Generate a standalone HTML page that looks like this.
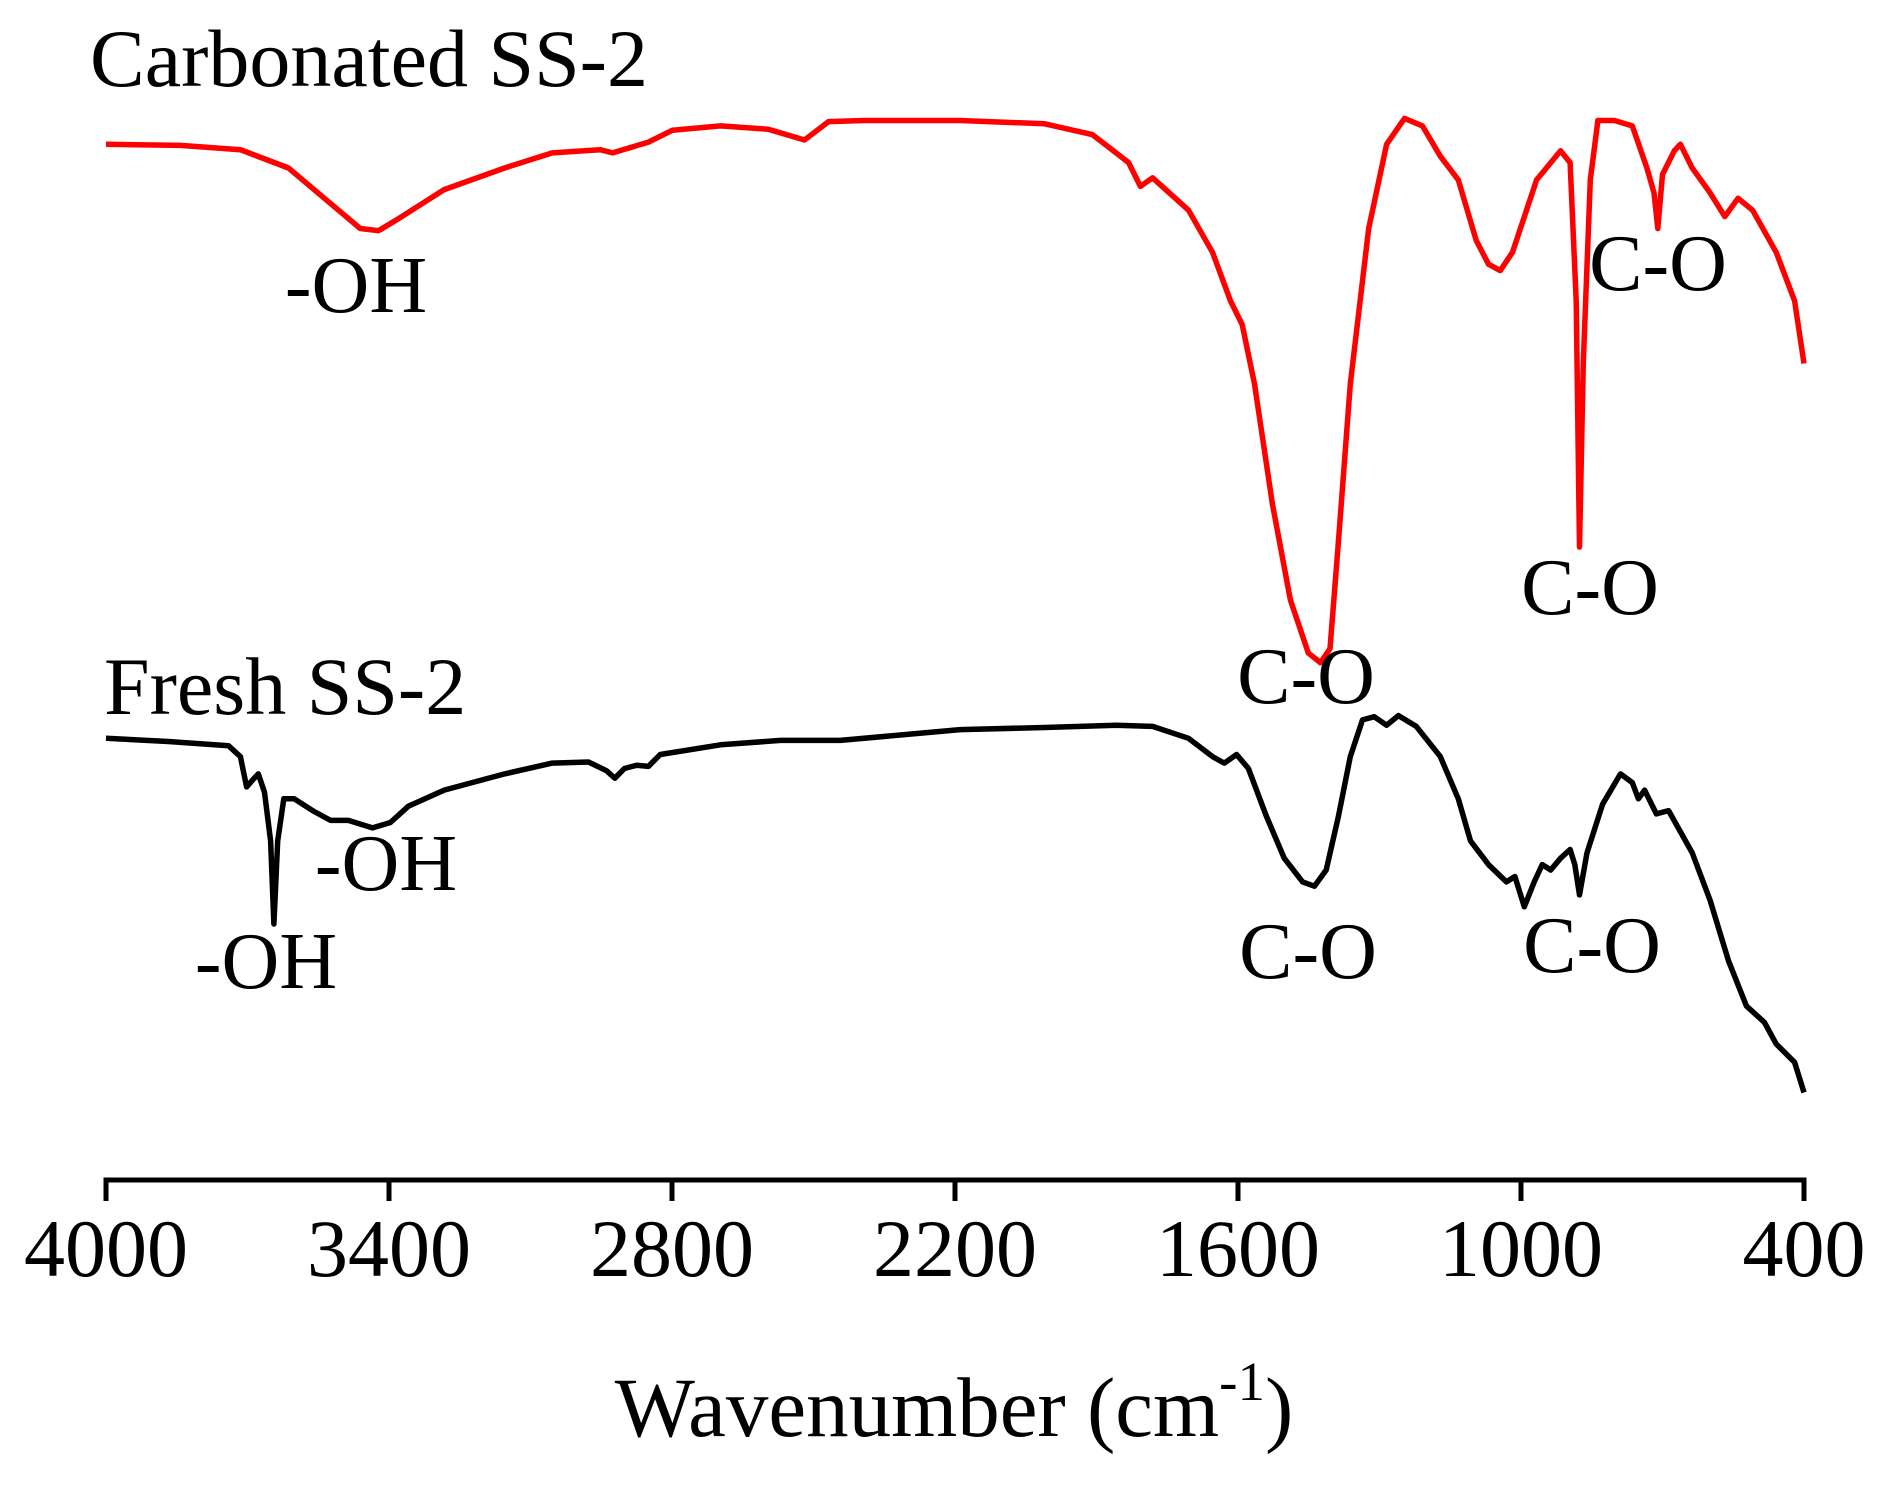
<!DOCTYPE html>
<html><head><meta charset="utf-8"><style>
html,body{margin:0;padding:0;background:#fff;}
svg text{font-family:"Liberation Serif",serif;fill:#000;}
</style></head><body>
<svg id="chart" width="1881" height="1480" viewBox="0 0 1881 1480" xmlns="http://www.w3.org/2000/svg">
<g id="axis"></g>
<g id="series"></g>
<text x="90" y="86" font-size="82">Carbonated SS-2</text>
<text x="104" y="714" font-size="82">Fresh SS-2</text>
<text x="356" y="312" font-size="80" text-anchor="middle">-OH</text>
<text x="1658" y="290" font-size="80" text-anchor="middle">C-O</text>
<text x="1590" y="614" font-size="80" text-anchor="middle">C-O</text>
<text x="1306" y="703" font-size="80" text-anchor="middle">C-O</text>
<text x="386" y="890" font-size="80" text-anchor="middle">-OH</text>
<text x="266" y="988" font-size="80" text-anchor="middle">-OH</text>
<text x="1308" y="978" font-size="80" text-anchor="middle">C-O</text>
<text x="1592" y="972" font-size="80" text-anchor="middle">C-O</text>
<text x="954" y="1436" font-size="85" text-anchor="middle">Wavenumber (cm<tspan font-size="55" dy="-36">-1</tspan><tspan dy="36">)</tspan></text>
</svg>
<script>
const xTicks=[4000,3400,2800,2200,1600,1000,400];
const carbWn=[4000,3842,3715,3613,3537,3461,3422,3384,3283,3155,3054,2952,2926,2850,2799,2697,2596,2519,2468,2392,2189,2010,1909,1832,1807,1781,1705,1654,1616,1591,1565,1527,1489,1451,1425,1405,1387,1362,1323,1285,1247,1209,1171,1133,1095,1069,1044,1018,967,916,896,883,876,868,853,837,802,764,733,718,710,700,675,662,637,599,568,540,509,459,420,400];
const carbVal=[95.9,95.8,95.4,93.7,90.9,88.1,87.9,88.9,91.7,93.7,95.1,95.4,95.1,96.1,97.2,97.6,97.3,96.3,98.0,98.1,98.1,97.8,96.8,94.2,92.0,92.8,89.8,85.9,81.4,79.2,73.7,62.6,53.7,48.8,47.9,49.2,59.2,73.7,88.1,95.9,98.3,97.6,94.8,92.6,87.0,84.8,84.2,85.9,92.6,95.3,94.2,81.4,58.6,75.7,92.6,98.1,98.1,97.6,93.7,91.4,88.1,93.1,95.3,95.9,93.7,91.4,89.2,90.9,89.8,85.9,81.4,75.6];
const freshWn=[4000,3868,3740,3715,3702,3690,3677,3664,3651,3644,3636,3623,3601,3562,3524,3486,3435,3397,3359,3283,3155,3054,2977,2939,2921,2901,2875,2850,2825,2697,2570,2443,2316,2189,2010,1858,1781,1705,1654,1629,1603,1578,1540,1502,1463,1438,1413,1387,1362,1336,1311,1285,1260,1222,1171,1133,1107,1069,1031,1013,993,972,955,937,916,896,886,876,860,827,789,764,751,738,713,687,637,599,560,522,484,459,420,400];
const freshVal=[40.9,40.6,40.2,39.2,36.4,37.0,37.6,35.9,31.4,23.7,31.4,35.3,35.3,34.2,33.3,33.3,32.6,33.1,34.6,36.1,37.6,38.6,38.7,37.9,37.2,38.1,38.4,38.3,39.4,40.3,40.7,40.7,41.2,41.7,41.9,42.1,42.0,40.9,39.2,38.6,39.4,38.1,33.7,29.8,27.6,27.2,28.7,33.7,39.2,42.6,42.9,42.1,43.0,42.0,39.2,35.3,31.4,29.2,27.6,28.1,25.3,27.6,29.2,28.7,29.8,30.6,29.2,26.4,30.3,34.8,37.6,36.8,35.3,36.1,33.9,34.2,30.3,25.9,20.3,16.1,14.6,12.6,10.9,8.1];

const NS="http://www.w3.org/2000/svg";
const X0=106,X1=1804,Y0=1180,YSCALE=10.8;
function xs(w){return X0+(4000-w)/3600*(X1-X0);}
function ys(v){return Y0-v*YSCALE;}
const axis=document.getElementById('axis');
const base=document.createElementNS(NS,'line');


base.setAttribute('x1',X0);base.setAttribute('x2',X1);base.setAttribute('y1',Y0);base.setAttribute('y2',Y0);
base.setAttribute('stroke','#000');base.setAttribute('stroke-width','5');base.setAttribute('stroke-linecap','square');
axis.appendChild(base);
xTicks.forEach(t=>{
  const l=document.createElementNS(NS,'line');
  
  
  l.setAttribute('x1',xs(t));l.setAttribute('x2',xs(t));l.setAttribute('y1',Y0);l.setAttribute('y2',Y0+21);
  l.setAttribute('stroke','#000');l.setAttribute('stroke-width','5');
  axis.appendChild(l);
  const tx=document.createElementNS(NS,'text');
  
  
  tx.setAttribute('x',xs(t));tx.setAttribute('y',1276);tx.setAttribute('font-size','82');tx.setAttribute('text-anchor','middle');
  tx.textContent=t;
  axis.appendChild(tx);
});
const series=document.getElementById('series');
function draw(wn,val,color,name){
  const p=document.createElementNS(NS,'path');
  
  
  let d='';
  for(let i=0;i<wn.length;i++){d+=(i?'L':'M')+xs(wn[i]).toFixed(1)+','+ys(val[i]).toFixed(1);}
  p.setAttribute('d',d);
  p.setAttribute('fill','none');p.setAttribute('stroke',color);p.setAttribute('stroke-width','5.5');
  p.setAttribute('stroke-linejoin','round');
  series.appendChild(p);
}
draw(carbWn,carbVal,'#ff0000','carbonated-ss2-line');
draw(freshWn,freshVal,'#000000','fresh-ss2-line');
</script>
</body></html>
